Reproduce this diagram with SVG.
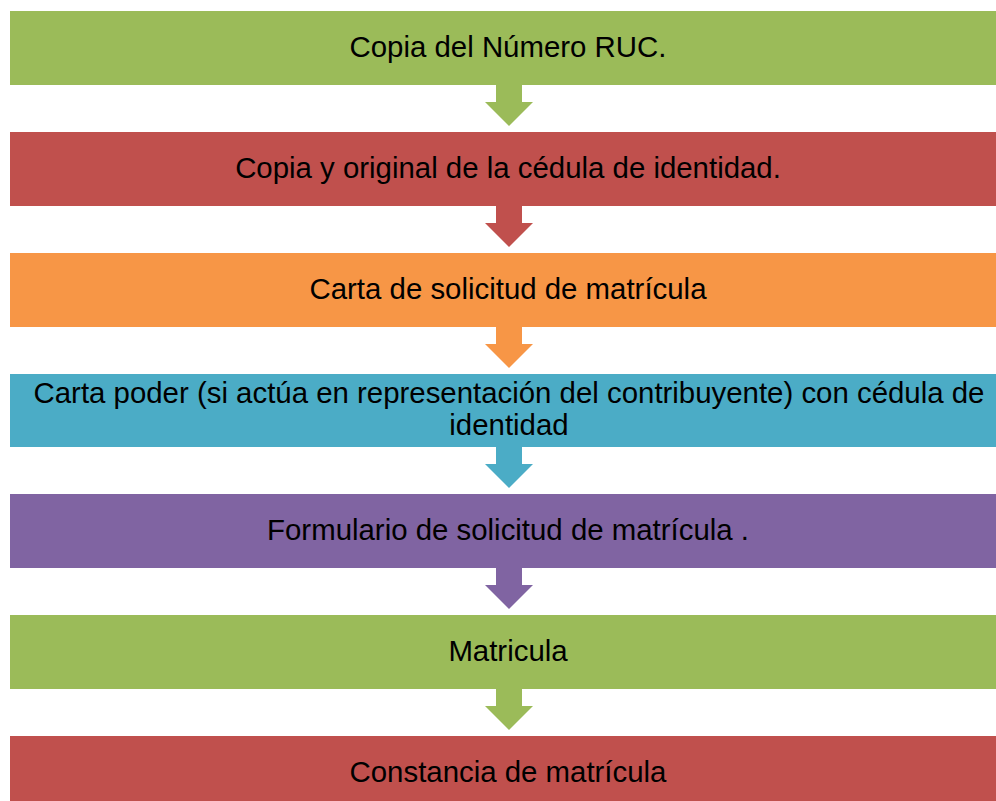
<svg xmlns="http://www.w3.org/2000/svg" width="996" height="801" viewBox="0 0 996 801">
<style>
text{font-family:"Liberation Sans",Arial,sans-serif;font-size:29.4px;fill:#000;text-anchor:middle}
.g{fill:#9BBB59}.r{fill:#C0504D}.o{fill:#F79646}.t{fill:#4BACC6}.p{fill:#8064A2}
</style>
<defs>
<path id="arr" d="M496,0 H522 V17 H533 L509,41 L485,17 H496 Z"/>
</defs>
<rect width="996" height="801" fill="#fff"/>
<g id="connectors">
<use href="#arr" class="g" y="85"/>
<use href="#arr" class="r" y="206"/>
<use href="#arr" class="o" y="327"/>
<use href="#arr" class="t" y="447"/>
<use href="#arr" class="p" y="568"/>
<use href="#arr" class="g" y="689"/>
</g>
<g id="n1"><rect class="g" x="10" y="11" width="986" height="74"/><text x="508" y="57">Copia del Número RUC.</text></g>
<g id="n2"><rect class="r" x="10" y="132" width="986" height="74"/><text x="508" y="178">Copia y original de la cédula de identidad.</text></g>
<g id="n3"><rect class="o" x="10" y="253" width="986" height="74"/><text x="508" y="299">Carta de solicitud de matrícula</text></g>
<g id="n4"><rect class="t" x="10" y="374" width="986" height="73"/><text x="509" y="403">Carta poder (si actúa en representación del contribuyente) con cédula de</text><text x="509" y="435">identidad</text></g>
<g id="n5"><rect class="p" x="10" y="494" width="986" height="74"/><text x="508" y="540">Formulario de solicitud de matrícula .</text></g>
<g id="n6"><rect class="g" x="10" y="615" width="986" height="74"/><text x="508" y="661">Matricula</text></g>
<g id="n7"><rect class="r" x="10" y="736" width="986" height="74"/><text x="508" y="782">Constancia de matrícula</text></g>
</svg>
